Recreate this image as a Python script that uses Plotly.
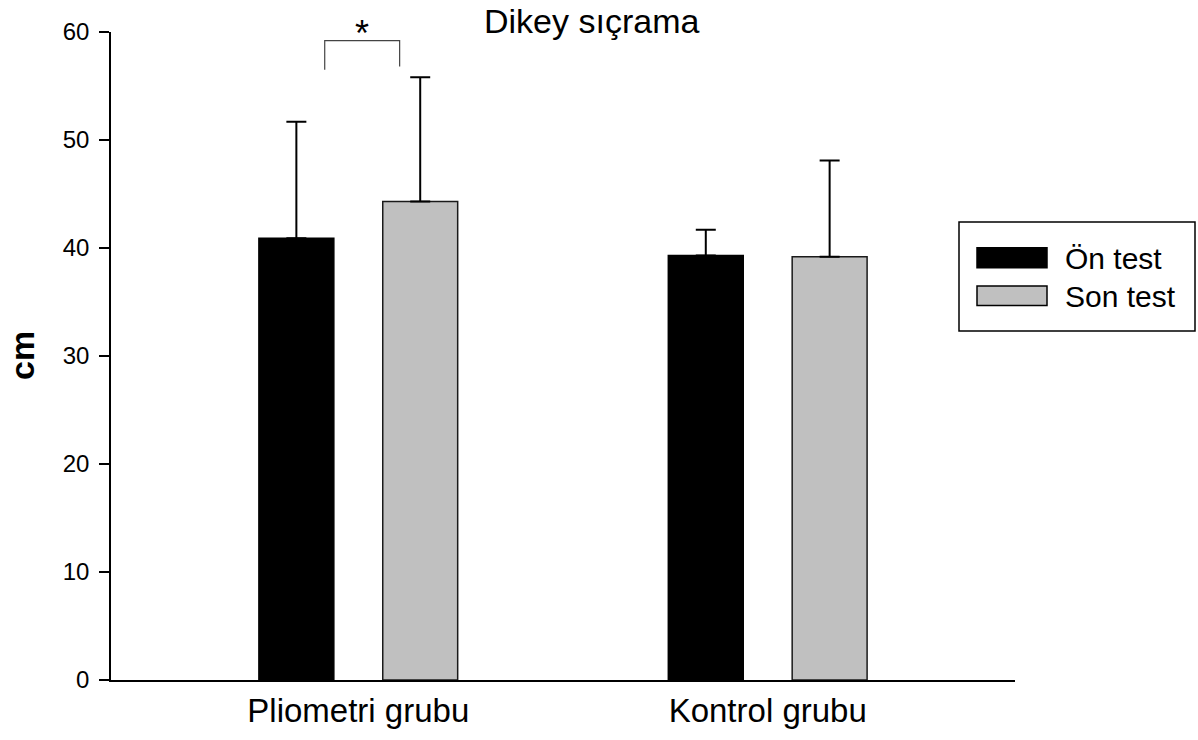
import plotly.graph_objects as go

categories = ["Pliometri grubu", "Kontrol grubu"]
on_test = [40.9, 39.3]
on_err = [10.8, 2.4]
son_test = [44.3, 39.2]
son_err = [11.5, 8.9]
series_names = ["Ön test", "Son test"]
series_colors = ["black", "#c0c0c0"]
y_ticks = [0, 10, 20, 30, 40, 50, 60]

FONT = "Liberation Sans, Arial, sans-serif"

# plot area spans page x 111..1015, y 32..680
W, H = 1198, 740
L, T = 111, 32
PW, PH = 904, 648


def px(X):
    return (X - L) / PW


def py(Y):
    return (T + PH - Y) / PH


fig = go.Figure()
for name, vals, errs, col, lc in [
    (series_names[0], on_test, on_err, series_colors[0], "black"),
    (series_names[1], son_test, son_err, series_colors[1], "#1a1a1a"),
]:
    fig.add_trace(go.Bar(
        x=categories, y=vals, name=name, showlegend=False,
        marker=dict(color=col, line=dict(color=lc, width=1.5)),
        error_y=dict(type="data", array=errs, arrayminus=[0, 0], symmetric=False,
                     color="black", thickness=2, width=10),
    ))

# significance bracket
fig.add_shape(type="path", xref="x", yref="y",
              path="M -0.082,56.5 L -0.082,59.2 L 0.101,59.2 L 0.101,56.8",
              line=dict(color="#444444", width=1.2))
fig.add_annotation(x=0.008, y=59.85, xref="x", yref="y", text="*", showarrow=False,
                   font=dict(family=FONT, size=36, color="black"), yanchor="middle")

# title
fig.add_annotation(x=px(591), y=py(21), xref="paper", yref="paper", text="Dikey sıçrama",
                   showarrow=False, font=dict(family=FONT, size=34, color="black"),
                   xanchor="center", yanchor="middle")
# y title
fig.add_annotation(x=px(22), y=py(356), xref="paper", yref="paper", text="<b>cm</b>",
                   showarrow=False, textangle=-90,
                   font=dict(family=FONT, size=34, color="black"),
                   xanchor="center", yanchor="middle")

# legend box
fig.add_shape(type="rect", xref="paper", yref="paper",
              x0=px(959), x1=px(1195), y0=py(331), y1=py(222),
              line=dict(color="black", width=1.5), fillcolor="white")
rows = [(247.7, 267.7), (286, 305.5)]
for (ytop, ybot), name, col in zip(rows, series_names, series_colors):
    fig.add_shape(type="rect", xref="paper", yref="paper",
                  x0=px(977), x1=px(1047), y0=py(ybot), y1=py(ytop),
                  line=dict(color="black", width=1.5), fillcolor=col)
    fig.add_annotation(x=px(1063), y=py((ytop + ybot) / 2 + 1), xref="paper", yref="paper",
                       text=name, showarrow=False, xanchor="left", yanchor="middle",
                       font=dict(family=FONT, size=30, color="black"))

fig.update_layout(
    width=W, height=H,
    margin=dict(l=L, r=W - L - PW, t=T, b=H - T - PH, pad=0),
    paper_bgcolor="white", plot_bgcolor="white",
    barmode="group", bargap=0.395, bargroupgap=0.395,
    font=dict(family=FONT, color="black"),
    showlegend=False,
    xaxis=dict(range=[-0.604, 1.604], showline=True, linecolor="black", linewidth=2,
               ticks="", showgrid=False, zeroline=False, automargin=False,
               ticklabelstandoff=0,
               tickfont=dict(family=FONT, size=33, color="black")),
    yaxis=dict(range=[0, 60], tickvals=y_ticks, showline=True, linecolor="black",
               linewidth=1.5, ticks="outside", ticklen=10, tickwidth=1.5, tickcolor="black",
               showgrid=False, zeroline=False, ticklabelstandoff=5, automargin=False,
               tickfont=dict(family=FONT, size=24, color="black")),
)

fig.write_html("out.html", config={"displayModeBar": False},
               post_script="document.body.style.margin='0';document.body.style.overflow='hidden';")
